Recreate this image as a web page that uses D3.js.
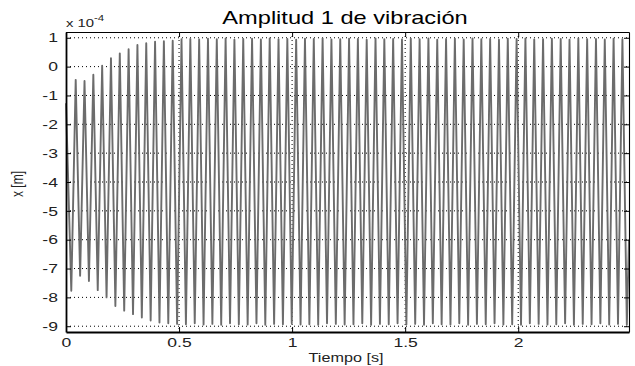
<!DOCTYPE html>
<html>
<head>
<meta charset="utf-8">
<script src="https://cdn.jsdelivr.net/npm/d3@7"></script>
<style>
  body { margin: 0; background: #fff; }
  text { font-family: "Liberation Sans", Arial, sans-serif; }
</style>
</head>
<body>
<svg id="chart" width="635" height="366"></svg>
<script>
// axis ticks
const xTicks = [0, 0.5, 1, 1.5, 2];
const yTicks = [-9, -8, -7, -6, -5, -4, -3, -2, -1, 0, 1];
const xDomain = [0, 2.49];
const yDomain = [-9.2, 1.2];

// signal, in units of 1e-4 m
const startVal = -1.27;
const endVal = -6.0;
const period = 0.039;       // s, one oscillation
const firstTrough = 0.0234; // s
const troughVals = [
  -7.77, -7.25, -7.43, -7.75, -8.0, -8.3, -8.46, -8.58, -8.7, -8.8, -8.87, -8.9, -8.92,
  -8.93, -8.9, -8.94, -8.92, -8.95, -8.9, -8.93, -8.94, -8.9, -8.95, -8.92, -8.93,
  -8.9, -8.94, -8.93, -8.95, -8.9, -8.92, -8.94, -8.93, -8.9, -8.95, -8.92, -8.93,
  -8.9, -8.94, -8.92, -8.95, -8.9, -8.93, -8.94, -8.9, -8.95, -8.92, -8.93, -8.9,
  -8.94, -8.93, -8.95, -8.9, -8.92, -8.94, -8.93, -8.9, -8.95, -8.92, -8.93, -8.9,
  -8.94, -8.92, -8.95
];
const peakVals = [
  -0.46, -0.5, -0.28, 0.03, 0.29, 0.46, 0.6, 0.75, 0.81, 0.86, 0.88, 0.9, 0.95,
  0.96, 0.94, 0.97, 0.95, 0.98, 0.93, 0.96, 0.97, 0.94, 0.98, 0.95, 0.96,
  0.93, 0.97, 0.96, 0.98, 0.94, 0.95, 0.97, 0.96, 0.93, 0.98, 0.95, 0.96,
  0.94, 0.97, 0.95, 0.98, 0.93, 0.96, 0.97, 0.94, 0.98, 0.95, 0.96, 0.93,
  0.97, 0.96, 0.98, 0.94, 0.95, 0.97, 0.96, 0.93, 0.98, 0.95, 0.96, 0.94,
  0.97, 0.95
];

const svg = d3.select("#chart");
const mLeft = 66, mRight = 629, mTop = 32, mBottom = 332;
const sx = 1.35; // the picture is stretched sideways, so is its lettering

const x = d3.scaleLinear().domain(xDomain).range([mLeft, mRight]);
const y = d3.scaleLinear().domain(yDomain).range([mBottom, mTop]);

// build the polyline: start, then trough/peak per cycle
const points = [[0, startVal]];
troughVals.forEach((v, j) => {
  points.push([firstTrough + j * period, v]);
  if (j < peakVals.length) points.push([firstTrough + (j + 0.5) * period, peakVals[j]]);
});
points.push([xDomain[1], endVal]);

// grid
const grid = svg.append("g").attr("class", "grid")
  .attr("stroke", "#000").attr("stroke-width", 1).attr("stroke-dasharray", "1,3");
grid.selectAll(".gx").data(xTicks.slice(1)).enter().append("line")
  .attr("x1", (d) => x(d)).attr("x2", (d) => x(d)).attr("y1", mTop).attr("y2", mBottom);
grid.selectAll(".gy").data(yTicks).enter().append("line")
  .attr("x1", mLeft).attr("x2", mRight).attr("y1", (d) => y(d)).attr("y2", (d) => y(d));

// signal
svg.append("path")
  .datum(points)
  .attr("fill", "none")
  .attr("stroke", "#6c6c6c")
  .attr("stroke-width", 1.9)
  .attr("stroke-linejoin", "round")
  .attr("d", d3.line().x((d) => x(d[0])).y((d) => y(d[1])));

// axes, ticks pointing inwards like MATLAB
const fmt = (d) => String(d); // plain hyphen minus, no trailing zeros
function styleAxis(g, w) {
  g.select(".domain").attr("stroke", "#000").attr("stroke-width", w);
  g.selectAll(".tick line").attr("stroke", "#000");
  g.selectAll(".tick text")
    .attr("fill", "#222")
    .style("font-size", "13px")
    .attr("transform", `scale(${sx},1)`);
}
svg.append("g")
  .attr("transform", `translate(${mLeft},0)`)
  .call(d3.axisLeft(y).tickValues(yTicks).tickFormat(fmt).tickSizeInner(-5).tickSizeOuter(0).tickPadding(6))
  .call(styleAxis, 1.8);
svg.append("g")
  .attr("transform", `translate(${mRight},0)`)
  .call(d3.axisRight(y).tickValues(yTicks).tickSizeInner(-5).tickSizeOuter(0).tickFormat(""))
  .call(styleAxis, 1.1);
svg.append("g")
  .attr("transform", `translate(0,${mBottom})`)
  .call(d3.axisBottom(x).tickValues(xTicks).tickFormat(fmt).tickSizeInner(-5).tickSizeOuter(0).tickPadding(6))
  .call(styleAxis, 1.8);
svg.append("g")
  .attr("transform", `translate(0,${mTop})`)
  .call(d3.axisTop(x).tickValues(xTicks).tickSizeInner(-5).tickSizeOuter(0).tickFormat(""))
  .call(styleAxis, 1.1);

// titles
svg.append("text")
  .attr("transform", `translate(345,24) scale(${sx},1)`)
  .attr("text-anchor", "middle")
  .attr("fill", "#000")
  .style("font-size", "17.5px")
  .text("Amplitud 1 de vibración");
svg.append("text")
  .attr("transform", `translate(346,362) scale(${sx},1)`)
  .attr("text-anchor", "middle")
  .attr("fill", "#222")
  .style("font-size", "12px")
  .text("Tiempo [s]");
svg.append("text")
  .attr("transform", `translate(23,184) scale(${sx},1) rotate(-90)`)
  .attr("text-anchor", "middle")
  .attr("fill", "#222")
  .style("font-size", "12px")
  .text("x [m]");

// exponent label
const expo = svg.append("text")
  .attr("transform", `translate(66,27) scale(${sx},1)`)
  .attr("fill", "#222")
  .style("font-size", "11px");
expo.append("tspan").text("x 10");
expo.append("tspan").attr("dy", -6).style("font-size", "8.5px").text("-4");
</script>
</body>
</html>
